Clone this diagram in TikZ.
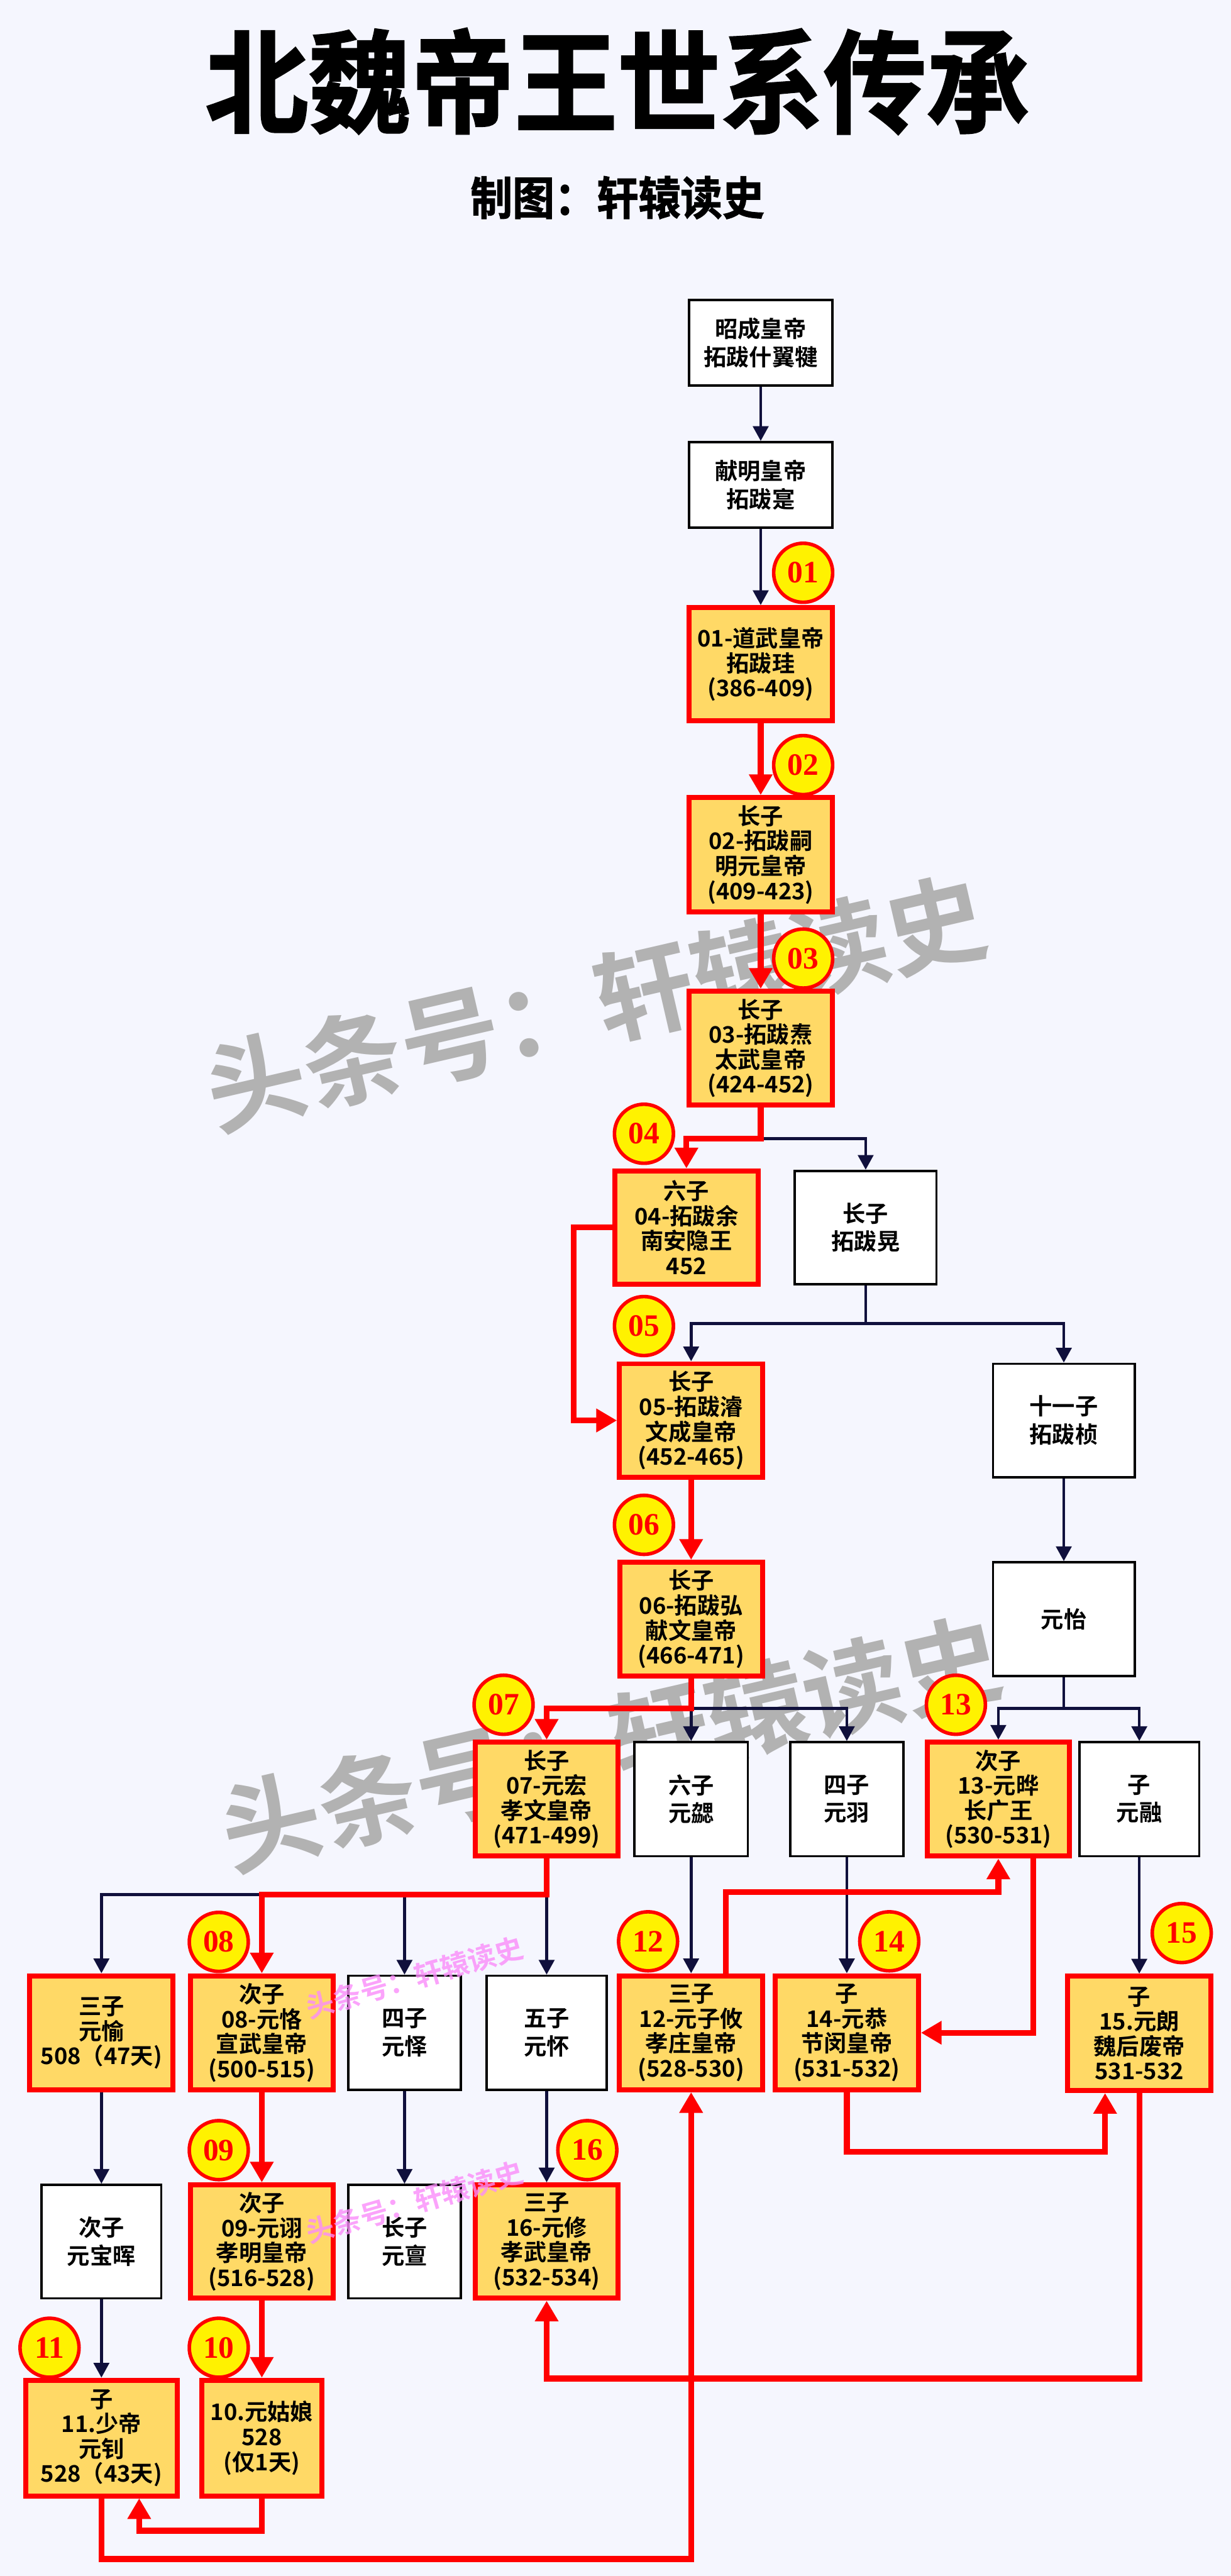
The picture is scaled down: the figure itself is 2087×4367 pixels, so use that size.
\documentclass[tikz,border=0pt]{standalone}
\usepackage{fontspec}
\setmainfont{Noto Sans CJK SC}[BoldFont={Noto Sans CJK SC Bold}]
\newfontfamily\titlefont{Noto Sans CJK SC}[BoldFont={Noto Sans CJK SC Bold},FakeStretch=0.92,FakeBold=1.5]
\newfontfamily\badgefont{Liberation Serif}
\usetikzlibrary{arrows.meta}
\definecolor{bgpaper}{RGB}{245,246,254}
\definecolor{boxyellow}{RGB}{255,217,102}
\definecolor{navy}{RGB}{16,16,60}
\definecolor{markgray}{RGB}{178,178,178}
\definecolor{markpink}{RGB}{250,140,250}

\begin{document}
\begin{tikzpicture}[x=0.01cm, y=-0.01cm,
  boxsize/.style 2 args={minimum width=#1cm, minimum height=#2cm},
  whitebox/.style={draw=black, line width=1.1pt, fill=white, align=center, inner sep=0pt,
    font=\fontsize{11}{13.5}\selectfont\bfseries},
  redbox/.style={draw=red, line width=2.4pt, fill=boxyellow, align=center, inner sep=0pt,
    font=\fontsize{11}{12}\selectfont\bfseries},
  badge/.style={circle, draw=red, line width=1.7pt, fill=yellow, text=red, minimum size=1cm,
    inner sep=0pt, font=\badgefont\bfseries\fontsize{15}{15}\selectfont},
  redarr/.style={draw=red, line width=2.8pt, -{Triangle[width=0.38cm,length=0.35cm]}},
  navyarr/.style={draw=navy, line width=1.4pt, -{Triangle[width=0.26cm,length=0.25cm]}},
  navyline/.style={draw=navy, line width=1.4pt},
  bigmark/.style={text=markgray, rotate=13, font=\fontsize{48}{48}\selectfont\bfseries},
  smallmark/.style={text=markpink, opacity=0.8, rotate=16, font=\fontsize{13.5}{13.5}\selectfont\bfseries}]

\fill[bgpaper] (0,0) rectangle (2087,4367);
\useasboundingbox (0,0) rectangle (2087,4367);

\node (title) at (1047,138) {\titlefont\bfseries\fontsize{54}{54}\selectfont 北魏帝王世系传承};
\node (maker) at (1047,335) {\titlefont\bfseries\fontsize{22}{22}\selectfont 制图：轩辕读史};

\node[bigmark] (mark1) at (1010,1700) {头条号：轩辕读史};
\node[bigmark] (mark2) at (1035,2955) {头条号：轩辕读史};

\node[whitebox, boxsize={2.43}{1.45}] (zhaocheng) at (1290,581) {昭成皇帝\\拓跋什翼犍};
\node[whitebox, boxsize={2.43}{1.45}] (xianming) at (1290,822) {献明皇帝\\拓跋寔};
\node[redbox, boxsize={2.43}{1.92}] (emp01) at (1290,1126) {01-道武皇帝\\拓跋珪\\(386-409)};
\node[redbox, boxsize={2.43}{1.94}] (emp02) at (1290,1449) {长子\\02-拓跋嗣\\明元皇帝\\(409-423)};
\node[redbox, boxsize={2.43}{1.93}] (emp03) at (1290,1777) {长子\\03-拓跋焘\\太武皇帝\\(424-452)};
\node[redbox, boxsize={2.43}{1.92}] (emp04) at (1164,2081) {六子\\04-拓跋余\\南安隐王\\452};
\node[whitebox, boxsize={2.40}{1.92}] (huang) at (1468,2081) {长子\\拓跋晃};
\node[redbox, boxsize={2.43}{1.92}] (emp05) at (1172,2408) {长子\\05-拓跋濬\\文成皇帝\\(452-465)};
\node[whitebox, boxsize={2.40}{1.92}] (zhen) at (1804,2408) {十一子\\拓跋桢};
\node[redbox, boxsize={2.42}{1.93}] (emp06) at (1172,2745) {长子\\06-拓跋弘\\献文皇帝\\(466-471)};
\node[whitebox, boxsize={2.40}{1.93}] (yiyi) at (1804,2745) {元怡};
\node[redbox, boxsize={2.42}{1.93}] (emp07) at (927,3050) {长子\\07-元宏\\孝文皇帝\\(471-499)};
\node[whitebox, boxsize={1.92}{1.93}] (xie) at (1172,3050) {六子\\元勰};
\node[whitebox, boxsize={1.92}{1.93}] (yu) at (1436,3050) {四子\\元羽};
\node[redbox, boxsize={2.41}{1.93}] (emp13) at (1693,3050) {次子\\13-元晔\\长广王\\(530-531)};
\node[whitebox, boxsize={2.03}{1.93}] (rong) at (1932,3050) {子\\元融};
\node[redbox, boxsize={2.43}{1.93}] (yuyu) at (172,3446) {三子\\元愉\\508（47天)};
\node[redbox, boxsize={2.42}{1.93}] (emp08) at (444,3446) {次子\\08-元恪\\宣武皇帝\\(500-515)};
\node[whitebox, boxsize={1.91}{1.93}] (yi) at (686,3446) {四子\\元怿};
\node[whitebox, boxsize={2.03}{1.93}] (huai) at (927,3446) {五子\\元怀};
\node[redbox, boxsize={2.43}{1.93}] (emp12) at (1172,3446) {三子\\12-元子攸\\孝庄皇帝\\(528-530)};
\node[redbox, boxsize={2.43}{1.93}] (emp14) at (1436,3446) {子\\14-元恭\\节闵皇帝\\(531-532)};
\node[redbox, boxsize={2.43}{1.94}] (emp15) at (1932,3447) {子\\15.元朗\\魏后废帝\\531-532};
\node[whitebox, boxsize={2.03}{1.92}] (baohui) at (172,3800) {次子\\元宝晖};
\node[redbox, boxsize={2.42}{1.92}] (emp09) at (444,3800) {次子\\09-元诩\\孝明皇帝\\(516-528)};
\node[whitebox, boxsize={1.91}{1.92}] (dan) at (686,3800) {长子\\元亶};
\node[redbox, boxsize={2.42}{1.92}] (emp16) at (927,3800) {三子\\16-元修\\孝武皇帝\\(532-534)};
\node[redbox, boxsize={2.57}{1.96}] (emp11) at (172,4133) {子\\11.少帝\\元钊\\528（43天)};
\node[redbox, boxsize={2.04}{1.96}] (emp10) at (444,4133) {10.元姑娘\\528\\(仅1天)};

\coordinate (fork03) at (1290,1930);
\coordinate (forkhuang) at (1468,2244);
\coordinate (fork06) at (1172,2896);
\coordinate (forkyiyi) at (1804,2896);
\coordinate (fork07) at (927,3212);

\draw[navyarr] (zhaocheng) -- (xianming);
\draw[navyarr] (xianming) -- (emp01);
\draw[navyarr] (fork03) -| (huang);
\draw[navyline] (huang) -- (forkhuang);
\draw[navyarr] (forkhuang) -| (emp05);
\draw[navyarr] (forkhuang) -| (zhen);
\draw[navyarr] (zhen) -- (yiyi);
\draw[navyarr] (fork06) -- (xie);
\draw[navyarr] (fork06) -| (yu);
\draw[navyline] (yiyi) -- (forkyiyi);
\draw[navyarr] (forkyiyi) -| (emp13);
\draw[navyarr] (forkyiyi) -| (rong);
\draw[navyarr] (emp08 |- fork07) -| (yuyu);
\draw[navyarr] (yi |- fork07) -- (yi);
\draw[navyarr] (fork07) -- (huai);
\draw[navyarr] (xie) -- (emp12);
\draw[navyarr] (yu) -- (emp14);
\draw[navyarr] (rong) -- (emp15);
\draw[navyarr] (yuyu) -- (baohui);
\draw[navyarr] (yi) -- (dan);
\draw[navyarr] (huai) -- (emp16);
\draw[navyarr] (baohui) -- (emp11);

\draw[redarr] (emp01) -- (emp02);
\draw[redarr] (emp02) -- (emp03);
\draw[redarr] (emp03) -- (fork03) -| (emp04);
\draw[redarr] (emp04.west) -- ++(-65,0) |- (emp05.west);
\draw[redarr] (emp05) -- (emp06);
\draw[redarr] (emp06) -- (fork06) -| (emp07);
\draw[redarr] (emp07) -- (fork07) -| (emp08);
\draw[redarr] (emp08) -- (emp09);
\draw[redarr] (emp09) -- (emp10);
\draw[redarr] (emp10.south) -- ++(0,55) -| ([xshift=0.64cm]emp11.south);
\draw[redarr] (emp11.south) -- ++(0,103) -| (emp12);
\draw[redarr] ([xshift=0.59cm]emp12.north) -- ++(0,-138) -| (emp13);
\draw[redarr] ([xshift=0.59cm]emp13.south) |- (emp14.east);
\draw[redarr] (emp14.south) -- ++(0,101) -| ([xshift=-0.58cm]emp15.south);
\draw[redarr] (emp15.south) -- ++(0,484) -| (emp16);

\node[badge] (no01) at (1362,971) {01};
\node[badge] (no02) at (1362,1297) {02};
\node[badge] (no03) at (1362,1625) {03};
\node[badge] (no04) at (1092,1922) {04};
\node[badge] (no05) at (1092,2248) {05};
\node[badge] (no06) at (1092,2585) {06};
\node[badge] (no07) at (854,2890) {07};
\node[badge] (no13) at (1621,2890) {13};
\node[badge] (no08) at (371,3292) {08};
\node[badge] (no12) at (1099,3291) {12};
\node[badge] (no14) at (1508,3291) {14};
\node[badge] (no15) at (2004,3277) {15};
\node[badge] (no09) at (371,3645) {09};
\node[badge] (no16) at (996,3645) {16};
\node[badge] (no11) at (84,3980) {11};
\node[badge] (no10) at (371,3980) {10};

\node[smallmark] (mark3) at (703,3352) {头条号：轩辕读史};
\node[smallmark] (mark4) at (703,3733) {头条号：轩辕读史};
\end{tikzpicture}
\end{document}
